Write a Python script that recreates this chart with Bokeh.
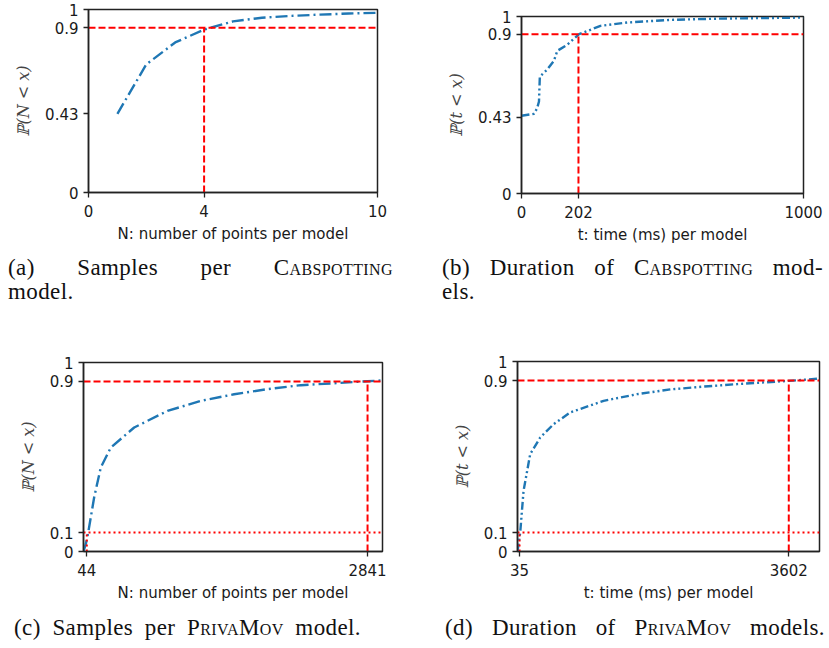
from bokeh.plotting import figure
from bokeh.models import Range1d, FixedTicker, Div
from bokeh.layouts import column, row
from bokeh.embed import file_html
from bokeh.resources import INLINE

# ---------------- data ----------------
# (a) Cabspotting: CDF of number of points per model
a_n = [1, 2, 3, 4, 5, 6, 7, 8, 9, 10]
a_p = [0.43, 0.70, 0.82, 0.89, 0.935, 0.955, 0.965, 0.972, 0.978, 0.982]
a_q90 = 4
a_xticks = [0, 4, 10]
a_yticks = [0, 0.43, 0.9, 1]

# (b) Cabspotting: CDF of duration (ms) per model
b_t = [0, 44, 55, 62, 65, 91, 115, 127, 162, 204, 280, 375, 529, 700, 1000]
b_p = [0.439, 0.45, 0.48, 0.52, 0.66, 0.70, 0.75, 0.806, 0.84, 0.90, 0.947,
       0.966, 0.981, 0.988, 0.994]
b_q90 = 202
b_xticks = [0, 202, 1000]
b_yticks = [0, 0.43, 0.9, 1]

# (c) PrivaMov: CDF of number of points per model
c_n = [11, 34, 57, 117, 183, 283, 516, 848, 1180, 1512, 1844, 2176, 2508, 2841, 2990]
c_p = [0.0, 0.04, 0.097, 0.286, 0.444, 0.55, 0.656, 0.744, 0.797, 0.832, 0.859,
       0.88, 0.89, 0.901, 0.905]
c_q10 = 44
c_q90 = 2841
c_xticks = [44, 2841]
c_yticks = [0, 0.1, 0.9, 1]

# (d) PrivaMov: CDF of duration (ms) per model
d_t = [8, 44, 88, 176, 309, 486, 707, 1149, 1591, 2033, 2475, 2917, 3602, 4009]
d_p = [0.0, 0.1, 0.319, 0.512, 0.6, 0.67, 0.732, 0.793, 0.828, 0.853, 0.868,
       0.881, 0.898, 0.91]
d_q10 = 35
d_q90 = 3602
d_xticks = [35, 3602]
d_yticks = [0, 0.1, 0.9, 1]

BLUE = "#1f77b4"
RED = "#ff0000"
DARK = "#222222"


def fmt(v):
    if v == int(v):
        return str(int(v))
    return ("%g" % v)


def make_fig(width, height, bl, br, bt, bb, xr, xticks, yticks, xlabel, ylabel):
    p = figure(width=width, height=height, x_range=Range1d(*xr), y_range=Range1d(0, 1),
               output_backend="svg", toolbar_location=None, title=None,
               min_border_left=bl, min_border_right=br, min_border_top=bt,
               min_border_bottom=bb)
    p.xgrid.visible = False
    p.ygrid.visible = False
    p.outline_line_color = DARK
    p.outline_line_width = 1.5
    p.outline_line_alpha = 1.0
    p.background_fill_color = "white"
    p.border_fill_color = "white"
    for ax, ticks in ((p.xaxis[0], xticks), (p.yaxis[0], yticks)):
        ax.ticker = FixedTicker(ticks=ticks)
        ax.major_label_overrides = {t: fmt(t) for t in ticks}
        ax.minor_tick_line_color = None
        ax.major_tick_in = 0
        ax.major_tick_out = 5
        ax.major_tick_line_color = DARK
        ax.major_tick_line_width = 1.3
        ax.axis_line_color = DARK
        ax.axis_line_width = 1.5
        ax.major_label_text_font = "DejaVu Sans"
        ax.major_label_text_font_size = "15px"
        ax.major_label_text_color = "#1a1a1a"
    p.xaxis.major_label_standoff = 7
    p.yaxis.major_label_standoff = 5
    p.xaxis.axis_label = xlabel
    p.xaxis.axis_label_text_font = "DejaVu Sans"
    p.xaxis.axis_label_text_font_style = "normal"
    p.xaxis.axis_label_text_font_size = "15px"
    p.xaxis.axis_label_text_color = "#1a1a1a"
    p.xaxis.axis_label_standoff = 5
    p.yaxis.axis_label = ylabel
    p.yaxis.axis_label_text_font = "DejaVu Serif"
    p.yaxis.axis_label_text_font_style = "italic"
    p.yaxis.axis_label_text_font_size = "16px"
    p.yaxis.axis_label_text_color = "#444444"
    p.yaxis.axis_label_standoff = 9
    return p


XLAB_N = "N: number of points per model"
XLAB_T = "t: time (ms) per model"
YLAB_N = "ℙ(N < x)"
YLAB_T = "ℙ(t < x)"

DASHDOT = "12 4 2 4"
DASHDOTDOT = "8 3 2 3 2 3"
DASHED = "7 3"
DOTTED = "2 3"

# (a)
pa = make_fig(430, 250, 88, 53, 9, 58, (0, 10), a_xticks, a_yticks, XLAB_N, YLAB_N)
pa.line(a_n, a_p, line_color=BLUE, line_width=2.4, line_dash=DASHDOT)
pa.line([0, 10], [0.9, 0.9], line_color=RED, line_width=2, line_dash=DASHED)
pa.line([a_q90, a_q90], [0, 0.9], line_color=RED, line_width=2, line_dash=DASHED)

# (b)
pb = make_fig(398, 250, 91, 25, 16, 57, (0, 1000), b_xticks, b_yticks, XLAB_T, YLAB_T)
pb.line(b_t, b_p, line_color=BLUE, line_width=2.4, line_dash=DASHDOTDOT)
pb.line([0, 1000], [0.9, 0.9], line_color=RED, line_width=2, line_dash=DASHED)
pb.line([b_q90, b_q90], [0, 0.9], line_color=RED, line_width=2, line_dash=DASHED)

# (c)
pc = make_fig(430, 268, 83, 48, 22, 57, (11, 2990), c_xticks, c_yticks, XLAB_N, YLAB_N)
pc.line(c_n, c_p, line_color=BLUE, line_width=2.4, line_dash=DASHDOT)
pc.line([11, 2990], [0.9, 0.9], line_color=RED, line_width=2, line_dash=DASHED)
pc.line([c_q90, c_q90], [0, 0.9], line_color=RED, line_width=2, line_dash=DASHED)
pc.line([11, 2990], [0.1, 0.1], line_color=RED, line_width=2, line_dash=DOTTED)
pc.line([c_q10, c_q10], [0, 0.1], line_color=RED, line_width=2, line_dash=DOTTED)

# (d)
pd_ = make_fig(398, 268, 87, 9, 21, 57, (8, 4009), d_xticks, d_yticks, XLAB_T, YLAB_T)
pd_.line(d_t, d_p, line_color=BLUE, line_width=2.4, line_dash=DASHDOTDOT)
pd_.line([8, 4009], [0.9, 0.9], line_color=RED, line_width=2, line_dash=DASHED)
pd_.line([d_q90, d_q90], [0, 0.9], line_color=RED, line_width=2, line_dash=DASHED)
pd_.line([8, 4009], [0.1, 0.1], line_color=RED, line_width=2, line_dash=DOTTED)
pd_.line([d_q10, d_q10], [0, 0.1], line_color=RED, line_width=2, line_dash=DOTTED)

# ---------------- captions ----------------
CAP = ("font-family:'Liberation Serif',serif;font-size:23px;color:#111;"
       "line-height:24px;letter-spacing:0.4px;box-sizing:content-box;")
SC = "font-variant:small-caps;"
JUST = "text-align:justify;text-align-last:justify;"


def caption(html, width, height, pad_left, pad_top, text_width):
    return Div(text=('<div style="%spadding-left:%dpx;padding-top:%dpx;width:%dpx;">%s</div>'
                     % (CAP, pad_left, pad_top, text_width, html)),
               width=width, height=height, margin=0)


ca = caption('<div style="%s">(a) Samples per <span style="%s">Cabspotting</span></div>'
             '<div>model.</div>' % (JUST, SC), 430, 90, 8, 6, 385)
cb = caption('<div style="%s">(b) Duration of <span style="%s">Cabspotting</span> mod-</div>'
             '<div>els.</div>' % (JUST, SC), 398, 90, 12, 6, 381)
cc = caption('<div style="%s">(c) Samples per <span style="%s">PrivaMov</span> model.</div>'
             % (JUST, SC), 430, 32, 14, 8, 347)
cd = caption('<div style="%s">(d) Duration of <span style="%s">PrivaMov</span> models.</div>'
             % (JUST, SC), 398, 32, 15, 8, 380)

layout = column(row(column(pa), column(pb), spacing=0), row(ca, cb, spacing=0),
                row(column(pc), column(pd_), spacing=0), row(cc, cd, spacing=0), spacing=0)

open("out.html", "w").write(file_html(layout, INLINE))
